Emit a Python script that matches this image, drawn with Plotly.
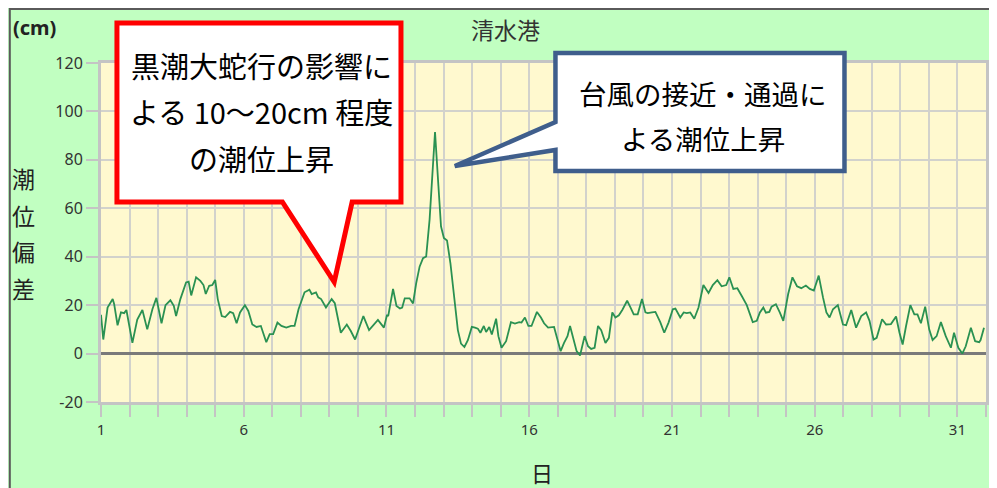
import plotly.graph_objects as go

# ---- data (day of month, tide anomaly in cm) ----
days = [
    1.00, 1.08, 1.23, 1.41, 1.46, 1.58, 1.70, 1.81, 1.89, 1.98,
    2.10, 2.27, 2.45, 2.62, 2.80, 2.94, 3.12, 3.26, 3.43, 3.55,
    3.63, 3.78, 3.98, 4.07, 4.16, 4.33, 4.48, 4.59, 4.67, 4.79,
    4.90, 5.00, 5.09, 5.23, 5.35, 5.52, 5.63, 5.75, 5.87, 6.04,
    6.16, 6.30, 6.45, 6.60, 6.79, 6.91, 7.03, 7.18, 7.32, 7.49,
    7.66, 7.78, 7.92, 8.13, 8.30, 8.38, 8.53, 8.61, 8.71, 8.88,
    9.08, 9.19, 9.40, 9.61, 9.75, 9.90, 10.00, 10.19, 10.39, 10.56,
    10.70, 10.91, 11.02, 11.06, 11.23, 11.35, 11.47, 11.55, 11.64, 11.81,
    11.93, 12.04, 12.16, 12.28, 12.39, 12.51, 12.60, 12.70, 12.82, 12.91,
    13.01, 13.12, 13.24, 13.38, 13.50, 13.61, 13.73, 13.85, 13.99, 14.10,
    14.20, 14.29, 14.41, 14.49, 14.60, 14.69, 14.84, 14.92, 15.03, 15.19,
    15.36, 15.50, 15.65, 15.73, 15.85, 15.97, 16.08, 16.27, 16.41, 16.52,
    16.66, 16.87, 16.99, 17.10, 17.22, 17.34, 17.43, 17.57, 17.66, 17.78,
    17.86, 17.94, 18.06, 18.17, 18.29, 18.41, 18.52, 18.67, 18.79, 18.91,
    19.02, 19.14, 19.26, 19.43, 19.55, 19.66, 19.80, 19.95, 20.07, 20.15,
    20.30, 20.42, 20.59, 20.73, 20.88, 21.03, 21.12, 21.29, 21.41, 21.52,
    21.64, 21.78, 21.93, 22.10, 22.28, 22.43, 22.59, 22.74, 22.90, 23.01,
    23.15, 23.29, 23.44, 23.62, 23.83, 23.97, 24.08, 24.20, 24.29, 24.41,
    24.49, 24.64, 24.78, 24.90, 25.07, 25.22, 25.38, 25.53, 25.69, 25.83,
    25.97, 26.14, 26.29, 26.41, 26.52, 26.64, 26.81, 26.99, 27.10, 27.28,
    27.45, 27.63, 27.80, 27.92, 28.06, 28.17, 28.36, 28.50, 28.67, 28.85,
    28.97, 29.08, 29.20, 29.35, 29.49, 29.60, 29.72, 29.87, 30.01, 30.13,
    30.27, 30.42, 30.59, 30.77, 30.88, 31.03, 31.17, 31.29, 31.47, 31.62,
    31.76, 31.81, 31.93,
]
anomaly_cm = [
    16.0, 5.8, 19.0, 22.5, 20.5, 11.7, 17.0, 16.7, 18.0, 12.0,
    4.4, 14.0, 18.0, 10.0, 18.3, 23.0, 12.5, 20.0, 22.0, 19.7,
    15.5, 22.5, 29.4, 29.7, 24.0, 31.5, 30.0, 28.3, 24.6, 28.0,
    28.3, 30.4, 22.5, 15.5, 15.1, 17.2, 16.7, 12.5, 17.0, 20.0,
    17.6, 12.0, 11.0, 11.4, 4.7, 8.0, 8.0, 12.8, 11.4, 10.7,
    11.4, 11.4, 18.3, 25.3, 26.4, 24.6, 25.3, 23.2, 22.5, 19.0,
    22.5, 20.8, 8.6, 12.0, 9.3, 5.8, 9.3, 15.5, 9.7, 12.0,
    13.9, 10.7, 16.0, 15.5, 26.7, 19.7, 18.6, 19.0, 22.8, 22.8,
    20.7, 29.0, 35.9, 39.4, 40.1, 55.3, 74.7, 91.5, 69.1, 52.5,
    47.7, 46.7, 37.3, 22.1, 9.7, 4.1, 2.7, 5.5, 11.0, 10.7,
    10.3, 8.6, 11.4, 8.9, 11.0, 7.9, 14.4, 7.2, 2.4, 5.1,
    13.0, 12.4, 13.0, 12.8, 14.9, 11.4, 11.4, 17.2, 14.9, 12.5,
    10.7, 11.0, 5.8, 1.0, 4.4, 7.2, 11.4, 4.4, 1.0, -0.8,
    3.0, 7.2, 3.0, 1.9, 2.4, 11.4, 9.7, 4.4, 6.5, 17.0,
    14.9, 15.8, 18.0, 21.8, 19.0, 16.2, 16.2, 22.5, 17.0, 16.7,
    17.0, 17.2, 13.0, 8.6, 12.8, 18.3, 18.6, 14.9, 17.0, 16.7,
    17.0, 14.4, 19.0, 28.3, 25.0, 28.3, 30.3, 27.8, 28.3, 31.5,
    26.7, 27.0, 23.9, 20.0, 13.0, 13.5, 17.0, 19.0, 16.9, 17.2,
    19.4, 20.4, 16.9, 13.5, 24.6, 31.5, 27.8, 27.0, 28.1, 26.7,
    26.0, 32.2, 23.2, 17.0, 14.9, 18.3, 20.0, 12.0, 11.7, 18.0,
    10.7, 15.5, 17.0, 13.5, 5.8, 6.5, 14.2, 12.0, 12.2, 15.3,
    8.6, 3.75, 11.4, 20.0, 16.2, 16.2, 12.5, 19.4, 10.0, 5.6,
    7.2, 13.0, 7.2, 2.4, 8.6, 2.4, 0.0, 3.0, 10.7, 5.1,
    4.7, 5.6, 10.7,
]
x_tick_vals = [1, 6, 11, 16, 21, 26, 31]
x_tick_text = ["1", "6", "11", "16", "21", "26", "31"]
y_tick_vals = [-20, 0, 20, 40, 60, 80, 100, 120]
y_tick_text = ["-20", "0", "20", "40", "60", "80", "100", "120"]

title_text = "清水港"
unit_text = "(cm)"
y_title_chars = ["潮", "位", "偏", "差"]
x_title_text = "日"
red_lines = ["黒潮大蛇行の影響に", "よる 10～20cm 程度", "の潮位上昇"]
blue_lines = ["台風の接近・通過に", "よる潮位上昇"]

# ---- geometry (page pixels; the page body has an 8px margin) ----
OFF = 8
W, H = 997 - OFF, 488 - OFF
PL, PR, PT, PB = 101, 989, 63, 402   # plot area in page pixels


def px(x):
    return (x - PL) / (PR - PL)


def py(y):
    return (PB - y) / (PB - PT)


def path(points):
    return "M " + " L ".join(f"{px(a):.5f},{py(b):.5f}" for a, b in points) + " Z"


GRID = "#d2d2cc"
AXIS = "#c4c4c4"
CJK = "Noto Sans CJK JP"

fig = go.Figure()
fig.add_trace(go.Scatter(
    x=days, y=anomaly_cm, mode="lines",
    line=dict(color="#2a9152", width=1.8),
    hoverinfo="skip", showlegend=False,
))

fig.update_layout(
    width=W, height=H,
    margin=dict(l=PL - OFF, r=(W + OFF) - PR, t=PT - OFF, b=(H + OFF) - PB, pad=0),
    paper_bgcolor="#c1ffc1",
    plot_bgcolor="#fff9cf",
    font=dict(family="Noto Sans, " + CJK, color="#333333"),
    xaxis=dict(
        range=[1, 32], tickmode="array", tickvals=x_tick_vals, ticktext=x_tick_text,
        ticks="outside", ticklen=12, tickwidth=2, tickcolor=AXIS,
        tickfont=dict(size=15, color="#333333"),
        showgrid=True, gridcolor=GRID, gridwidth=2,
        minor=dict(dtick=1, tick0=1, ticks="outside", ticklen=12, tickwidth=2,
                   tickcolor=AXIS, showgrid=True, gridcolor=GRID, gridwidth=2),
        showline=True, linecolor=AXIS, linewidth=3, mirror=True,
        zeroline=False, fixedrange=True,
    ),
    yaxis=dict(
        range=[-20, 120], tickmode="array", tickvals=y_tick_vals, ticktext=y_tick_text,
        ticks="outside", ticklen=12, tickwidth=2, tickcolor=AXIS,
        tickfont=dict(size=16, color="#333333"),
        showgrid=True, gridcolor=GRID, gridwidth=2,
        showline=True, linecolor=AXIS, linewidth=3, mirror=True,
        zeroline=True, zerolinecolor="#7a7a7a", zerolinewidth=2.5,
        fixedrange=True,
    ),
)

shapes = []
# frame border (top and left)
shapes.append(dict(type="line", xref="paper", yref="paper",
                   x0=px(9), x1=px(1010), y0=py(9), y1=py(9),
                   line=dict(color="#5a5a5a", width=2), layer="above"))
shapes.append(dict(type="line", xref="paper", yref="paper",
                   x0=px(9.5), x1=px(9.5), y0=py(8), y1=py(500),
                   line=dict(color="#5a5a5a", width=2), layer="above"))
# red callout
shapes.append(dict(type="path", xref="paper", yref="paper",
                   path=path([(117, 23), (402, 23), (402, 202), (353, 202),
                              (335, 282), (283, 202), (117, 202)]),
                   fillcolor="white", line=dict(color="#ff0000", width=5),
                   layer="above"))
# blue callout
shapes.append(dict(type="path", xref="paper", yref="paper",
                   path=path([(557, 53), (847, 53), (847, 171), (557, 171),
                              (557, 150), (456, 166), (557, 122)]),
                   fillcolor="white", line=dict(color="#3f5e8c", width=4.5),
                   layer="above"))
fig.update_layout(shapes=shapes)

ann = []


def text(t, x, y, size, color="#111111", xanchor="center", family=CJK):
    ann.append(dict(text=t, x=px(x), y=py(y), xref="paper", yref="paper",
                    xanchor=xanchor, yanchor="middle", showarrow=False,
                    font=dict(size=size, color=color, family=family)))


text(title_text, 507, 29, 23, color="#333333")
text("<b>" + unit_text + "</b>", 11, 28, 20, color="#222222", xanchor="left",
     family="Noto Sans")
for i, ch in enumerate(y_title_chars):
    text(ch, 23, 178 + i * 36.7, 23, color="#222222")
text(x_title_text, 543, 472, 22, color="#222222")
for i, ln in enumerate(red_lines):
    text(ln, 262, 65 + i * 46.5, 29, color="#000000")
for i, ln in enumerate(blue_lines):
    text(ln, 705, 93 + i * 45, 27.5, color="#000000")
fig.update_layout(annotations=ann)

fig.write_html("out.html")
